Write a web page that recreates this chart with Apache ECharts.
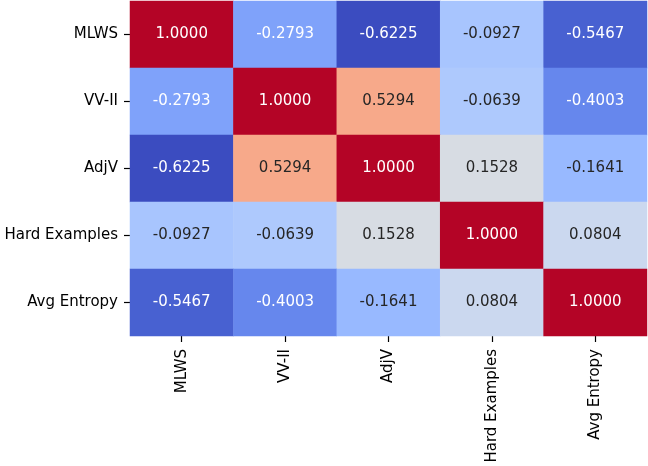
<!DOCTYPE html>
<html>
<head>
<meta charset="utf-8">
<script src="https://cdn.jsdelivr.net/npm/echarts@6/dist/echarts.min.js"></script>
<style>html,body{margin:0;padding:0;background:#fff;}#chart{width:648px;height:466px;}</style>
</head>
<body>
<div id="chart"></div>
<script>
const labels = ["MLWS", "VV-II", "AdjV", "Hard Examples", "Avg Entropy"];
const matrix = [
  [1.0000, -0.2793, -0.6225, -0.0927, -0.5467],
  [-0.2793, 1.0000, 0.5294, -0.0639, -0.4003],
  [-0.6225, 0.5294, 1.0000, 0.1528, -0.1641],
  [-0.0927, -0.0639, 0.1528, 1.0000, 0.0804],
  [-0.5467, -0.4003, -0.1641, 0.0804, 1.0000]
];
const coolwarm = [
  [59,76,192],[68,90,204],[77,104,215],[87,117,225],[98,130,234],[108,142,241],
  [119,154,247],[130,165,251],[141,176,254],[152,185,255],[163,194,255],[174,201,253],
  [184,208,249],[194,213,244],[204,217,238],[213,219,230],[221,221,221],[229,216,209],
  [236,211,197],[241,204,184],[245,196,172],[247,187,159],[247,177,147],[247,166,134],
  [244,154,123],[241,141,111],[236,127,99],[229,112,88],[222,96,77],[213,80,66],
  [203,62,56],[192,40,47],[180,4,38]
];
let vmin = Infinity, vmax = -Infinity;
matrix.forEach(r => r.forEach(v => { vmin = Math.min(vmin, v); vmax = Math.max(vmax, v); }));
function cmap(t) {
  t = Math.max(0, Math.min(1, t));
  const p = t * (coolwarm.length - 1);
  const i = Math.min(Math.floor(p), coolwarm.length - 2);
  const f = p - i;
  return coolwarm[i].map((c, k) => c + (coolwarm[i + 1][k] - c) * f);
}
function lum(rgb) {
  const c = rgb.map(x => { x /= 255; return x <= 0.03928 ? x / 12.92 : Math.pow((x + 0.055) / 1.055, 2.4); });
  return 0.2126 * c[0] + 0.7152 * c[1] + 0.0722 * c[2];
}
const data = [];
matrix.forEach((row, r) => row.forEach((v, c) => {
  const rgb = cmap((v - vmin) / (vmax - vmin));
  data.push({
    value: [c, r, v],
    label: { color: lum(rgb) > 0.408 ? '#262626' : '#ffffff' }
  });
}));
const chart = echarts.init(document.getElementById('chart'));
chart.setOption({
  animation: false,
  grid: { left: 130, top: 1, right: 1, height: 335 },
  xAxis: {
    type: 'category', data: labels, position: 'bottom',
    axisLine: { show: false },
    axisTick: { show: true, alignWithLabel: true, length: 6, lineStyle: { color: '#000', width: 1.2 } },
    axisLabel: { rotate: 90, color: '#000', fontSize: 15, fontFamily: 'DejaVu Sans', margin: 13 },
    splitLine: { show: false }
  },
  yAxis: {
    type: 'category', data: labels, inverse: true,
    axisLine: { show: false },
    axisTick: { show: true, alignWithLabel: true, length: 6, lineStyle: { color: '#000', width: 1.2 } },
    axisLabel: { color: '#000', fontSize: 15, fontFamily: 'DejaVu Sans', margin: 12 },
    splitLine: { show: false }
  },
  visualMap: {
    show: false, type: 'continuous', min: vmin, max: vmax, dimension: 2,
    inRange: { color: coolwarm.map(c => 'rgb(' + c.join(',') + ')') }
  },
  series: [{
    type: 'heatmap',
    data: data,
    label: {
      show: true, fontSize: 15, fontFamily: 'DejaVu Sans',
      formatter: p => p.value[2].toFixed(4)
    },
    itemStyle: { borderWidth: 0 },
    emphasis: { disabled: true }
  }]
});
</script>
</body>
</html>
